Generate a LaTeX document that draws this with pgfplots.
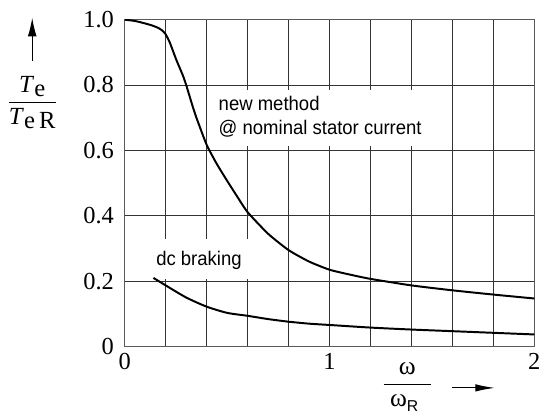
\documentclass[border=0pt]{standalone}
\usepackage{fontspec}
\setmainfont{Liberation Serif}
\setsansfont{Liberation Sans}
\newfontfamily\narrowsans[FakeStretch=0.94]{Liberation Sans}
\usepackage{pgfplots}
\pgfplotsset{compat=1.18}
\usetikzlibrary{arrows.meta}
\begin{document}
\begin{tikzpicture}[x=1pt,y=1pt]
\begin{axis}[
  set layers=standard,
  at={(0,0)}, anchor=south west,
  scale only axis, width=208pt, height=166pt,
  xmin=0, xmax=2, ymin=0, ymax=1,
  xtick={0,1,2}, xticklabels={0,1,2},
  minor xtick={0.2,0.4,0.6,0.8,1.2,1.4,1.6,1.8},
  ytick={0,0.2,0.4,0.6,0.8,1}, yticklabels={0,0.2,0.4,0.6,0.8,1.0},
  grid=both,
  major grid style={black!80, line width=0.5pt},
  minor grid style={black!80, line width=0.5pt},
  major tick length=0pt, minor tick length=0pt,
  axis line style={black!65, line width=0.6pt},
  tick label style={font=\rmfamily\fontsize{12.4}{14}\selectfont},
  yticklabel style={xshift=-2pt},
  /pgf/number format/assume math mode=true,
]
\begin{pgfonlayer}{pre main}
\fill[white] (axis cs:0.404,0.786) rectangle (axis cs:1.59,0.614);
\fill[white] (axis cs:0.067,0.328) rectangle (axis cs:0.69,0.208);
\end{pgfonlayer}
\node[inner sep=0pt, anchor=base west,
      font=\narrowsans\fontsize{10}{12.2}\selectfont]
  at (axis cs:0.457,0.722) {new method};
\node[inner sep=0pt, anchor=base west,
      font=\narrowsans\fontsize{10}{12.2}\selectfont]
  at (axis cs:0.457,0.6485) {@ nominal stator current};
\node[inner sep=0pt, anchor=base west,
      font=\narrowsans\fontsize{10}{12.2}\selectfont]
  at (axis cs:0.152,0.247) {dc braking};
\addplot[black, line width=1pt, smooth, tension=0.35] coordinates {
(0,1.0) (0.05,0.996) (0.09,0.99) (0.13,0.983) (0.163,0.975) (0.185,0.966)
(0.2,0.955) (0.22,0.93) (0.25,0.88) (0.284,0.829) (0.3,0.80) (0.332,0.734)
(0.35,0.70) (0.4,0.617) (0.45,0.558) (0.5,0.507) (0.55,0.458) (0.6,0.411)
(0.7,0.345) (0.8,0.295) (0.9,0.26)
(1.0,0.235) (1.1,0.22) (1.2,0.207) (1.4,0.187) (1.6,0.172) (1.8,0.159) (2.0,0.147)
};
\addplot[black, line width=1pt, smooth, tension=0.4] coordinates {
(0.14,0.21) (0.2,0.187) (0.3,0.15) (0.4,0.122) (0.5,0.103) (0.6,0.094)
(0.7,0.084) (0.8,0.076) (0.9,0.070) (1.0,0.066) (1.2,0.058) (1.4,0.052)
(1.6,0.047) (1.8,0.042) (2.0,0.037)
};
\end{axis}
\draw[line width=0.6pt, -{Latex[length=9.5pt,width=4.5pt]}] (-47,145) -- (-47,167);
\node at (-47,124) {\fontsize{12.5}{14}\selectfont
  $\displaystyle\frac{\mbox{\itshape T\/\raisebox{-0.35ex}{\upshape e}}}{\mbox{\itshape T\/\raisebox{-0.35ex}{\upshape e\,R}}}$};
\node at (143.5,-20.5) {\fontsize{13}{14}\selectfont
  $\displaystyle\frac{\mbox{\ \ ω\ \ }}{\mbox{\ ω\raisebox{-0.4ex}{\sffamily\fontsize{8}{9}\selectfont R}\ \ }}$};
\draw[line width=0.6pt, -{Latex[length=10pt,width=3.8pt]}] (166,-21) -- (188,-21);
\path[use as bounding box] (-60.5,-32.5) rectangle (213,176);
\end{tikzpicture}
\end{document}
